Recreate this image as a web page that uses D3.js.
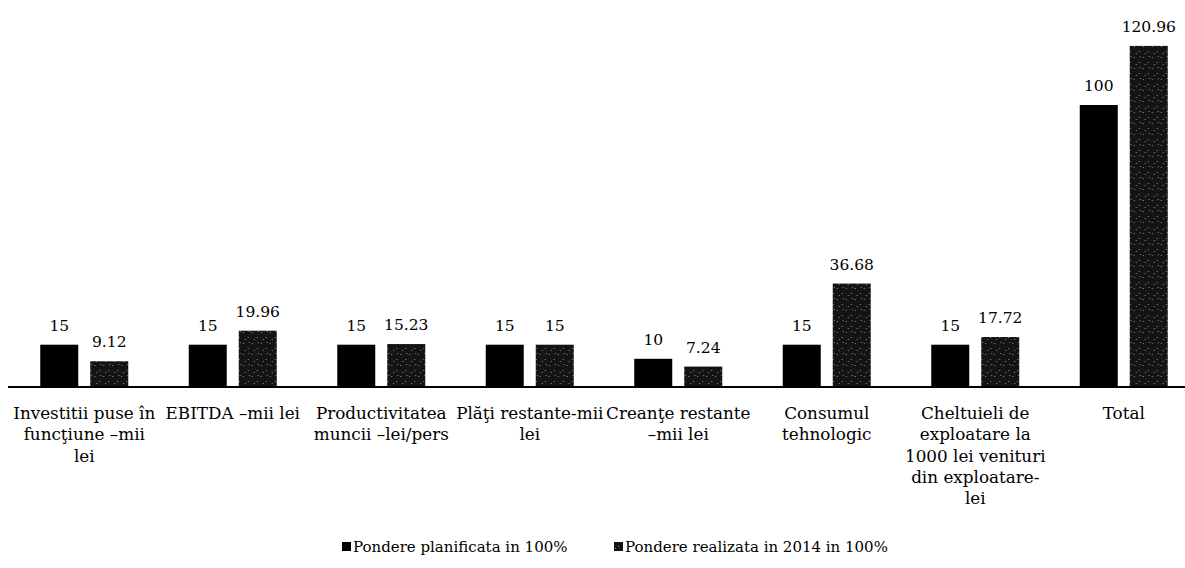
<!DOCTYPE html>
<html>
<head>
<meta charset="utf-8">
<script src="https://cdn.jsdelivr.net/npm/d3@7"></script>
<style>
  body { margin: 0; background: #fff; }
  text { font-family: "DejaVu Serif", "Liberation Serif", serif; fill: #000; }
</style>
</head>
<body>
<svg id="chart" width="1185" height="568"></svg>
<script>
// categories, one line per entry as printed under the axis
var categories = [
    ["Investitii puse în", "funcţiune –mii", "lei"],
    ["EBITDA –mii lei"],
    ["Productivitatea", "muncii –lei/pers"],
    ["Plăţi restante-mii", "lei"],
    ["Creanţe restante", "–mii lei"],
    ["Consumul", "tehnologic"],
    ["Cheltuieli de", "exploatare la", "1000 lei venituri", "din exploatare-", "lei"],
    ["Total"]
];
var planned = [15, 15, 15, 15, 10, 15, 15, 100];
var realised = [9.12, 19.96, 15.23, 15, 7.24, 36.68, 17.72, 120.96];
var plannedLabels = ["15", "15", "15", "15", "10", "15", "15", "100"];
var realisedLabels = ["9.12", "19.96", "15.23", "15", "7.24", "36.68", "17.72", "120.96"];
var seriesNames = ["Pondere planificata in 100%", "Pondere realizata in 2014 in 100%"];

var svg = d3.select("#chart");
var baseY = 387;

// speckled dark fill for the second series
var defs = svg.append("defs");
var pat = defs.append("pattern")
    .attr("id", "speckle")
    .attr("patternUnits", "userSpaceOnUse")
    .attr("width", 9).attr("height", 11);
pat.append("rect").attr("width", 9).attr("height", 11).attr("fill", "#141414");
[[1, 2], [6, 7], [3, 9], [7, 1]].forEach(function(p) {
    pat.append("rect").attr("x", p[0]).attr("y", p[1]).attr("width", 1).attr("height", 1).attr("fill", "#8a8a8a");
});

var x = d3.scaleBand()
    .domain(d3.range(categories.length))
    .range([10, 1198])
    .paddingInner(0).paddingOuter(0);

var y = d3.scaleLinear().domain([0, 100]).range([baseY, 105]);

var barW = 38, gap = 12;

var groups = svg.selectAll("g.grp")
    .data(categories)
    .enter().append("g")
    .attr("class", "grp")
    .attr("transform", function(d, i) { return "translate(" + (x(i) + x.bandwidth() / 2) + ",0)"; });

groups.append("rect")
    .attr("x", -barW - gap / 2)
    .attr("width", barW)
    .attr("y", function(d, i) { return y(planned[i]); })
    .attr("height", function(d, i) { return baseY - y(planned[i]); })
    .attr("fill", "#000");

groups.append("rect")
    .attr("x", gap / 2)
    .attr("width", barW)
    .attr("y", function(d, i) { return y(realised[i]); })
    .attr("height", function(d, i) { return baseY - y(realised[i]); })
    .attr("fill", "url(#speckle)");

groups.append("text")
    .attr("x", -barW / 2 - gap / 2)
    .attr("y", function(d, i) { return y(planned[i]) - 14; })
    .attr("text-anchor", "middle")
    .style("font-size", "15.5px")
    .text(function(d, i) { return plannedLabels[i]; });

groups.append("text")
    .attr("x", barW / 2 + gap / 2)
    .attr("y", function(d, i) { return y(realised[i]) - 14; })
    .attr("text-anchor", "middle")
    .style("font-size", "15.5px")
    .text(function(d, i) { return realisedLabels[i]; });

// axis line
svg.append("line")
    .attr("x1", 8).attr("x2", 1185)
    .attr("y1", baseY).attr("y2", baseY)
    .attr("stroke", "#000").attr("stroke-width", 2);

// category labels
groups.append("text")
    .attr("text-anchor", "middle")
    .style("font-size", "16.8px")
    .selectAll("tspan")
    .data(function(d) { return d; })
    .enter().append("tspan")
    .attr("x", 0)
    .attr("y", function(d, j) { return 419 + j * 21.3; })
    .text(function(d) { return d; });

// legend
var legend = svg.append("g");
var legX = [342, 614];
seriesNames.forEach(function(name, i) {
    legend.append("rect")
        .attr("x", legX[i]).attr("y", 542)
        .attr("width", 9).attr("height", 9)
        .attr("fill", i === 0 ? "#000" : "url(#speckle)");
    legend.append("text")
        .attr("x", legX[i] + 11).attr("y", 552)
        .style("font-size", "15px")
        .text(name);
});
</script>
</body>
</html>
